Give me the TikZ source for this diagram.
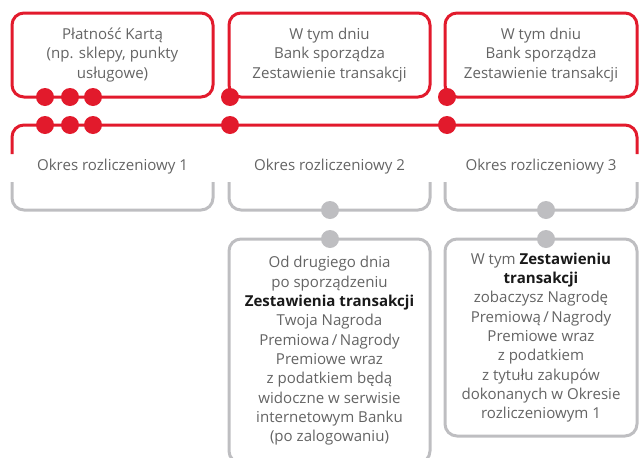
\documentclass[tikz,border=0pt]{standalone}
\usepackage{fontspec}
\setmainfont{Open Sans}
\definecolor{cardred}{RGB}{226,26,44}
\definecolor{linegray}{RGB}{190,190,193}
\definecolor{txtgray}{RGB}{100,100,100}
\newcommand{\hl}[1]{\textcolor{black!90}{\textbf{#1}}}
\begin{document}
\begin{tikzpicture}[x=0.75pt,y=-0.75pt,
        every node/.style={font=\fontsize{11.3}{14.5}\selectfont,text=txtgray,align=center},
        topbox/.style={draw=cardred,line width=2.25pt,rounded corners=9pt,minimum height=63pt},
        lowbox/.style={draw=linegray,line width=2.25pt,rounded corners=9pt},
        redline/.style={draw=cardred,line width=2.25pt,rounded corners=9pt},
        grayline/.style={draw=linegray,line width=2.25pt,rounded corners=9pt},
        reddot/.style={circle,fill=cardred,inner sep=0pt,minimum size=13.5pt},
        graydot/.style={circle,fill=linegray,inner sep=0pt,minimum size=13.5pt}]
            \clip (0,0) rectangle (639,457);
            \node[topbox,minimum width=150.75pt] (top1) at (112.5,55) {Płatność Kartą\\(np. sklepy, punkty\\usługowe)};
            \node[topbox,minimum width=150.75pt] (top2) at (329.5,55) {W tym dniu\\Bank sporządza\\Zestawienie transakcji};
            \node[topbox,minimum width=144pt] (top3) at (541,55) {W tym dniu\\Bank sporządza\\Zestawienie transakcji};
            \draw[redline] (12,154) |- (637,125) -- (637,154);
            \draw[grayline] (12,182) |- (213,210) -- (213,182);
            \draw[grayline] (229,182) |- (430,210) -- (430,182);
            \draw[grayline] (445,182) |- (637,210) -- (637,182);
            \node (per1) at (112.5,167) {Okres rozliczeniowy 1};
            \node (per2) at (329.5,167) {Okres rozliczeniowy 2};
            \node (per3) at (541,167) {Okres rozliczeniowy 3};
            \node[lowbox,minimum width=150.75pt,minimum height=168pt] (info2) at (329.5,351) {Od drugiego dnia\\po sporządzeniu\\\hl{Zestawienia transakcji}\\Twoja Nagroda\\Premiowa\,/\,Nagrody\\Premiowe wraz\\z podatkiem będą\\widoczne w serwisie\\internetowym Banku\\(po zalogowaniu)};
            \node[lowbox,minimum width=144pt,minimum height=147.75pt] (info3) at (541,337.5) {W tym \hl{Zestawieniu}\\\hl{transakcji}\\zobaczysz Nagrodę\\Premiową\,/\,Nagrody\\Premiowe wraz\\z podatkiem\\z tytułu zakupów\\dokonanych w Okresie\\rozliczeniowym 1};
            \foreach \x/\n in {45/a,70/b,93/c,230/d,447/e} {
                \node[reddot] (up\n) at (\x,97) {};
                \node[reddot] (dn\n) at (\x,125) {};
            }
            \foreach \x/\n in {330/b,546/c} {
                \node[graydot] (end\n) at (\x,210) {};
                \node[graydot] (start\n) at (\x,239) {};
            }
        \end{tikzpicture}
\end{document}
